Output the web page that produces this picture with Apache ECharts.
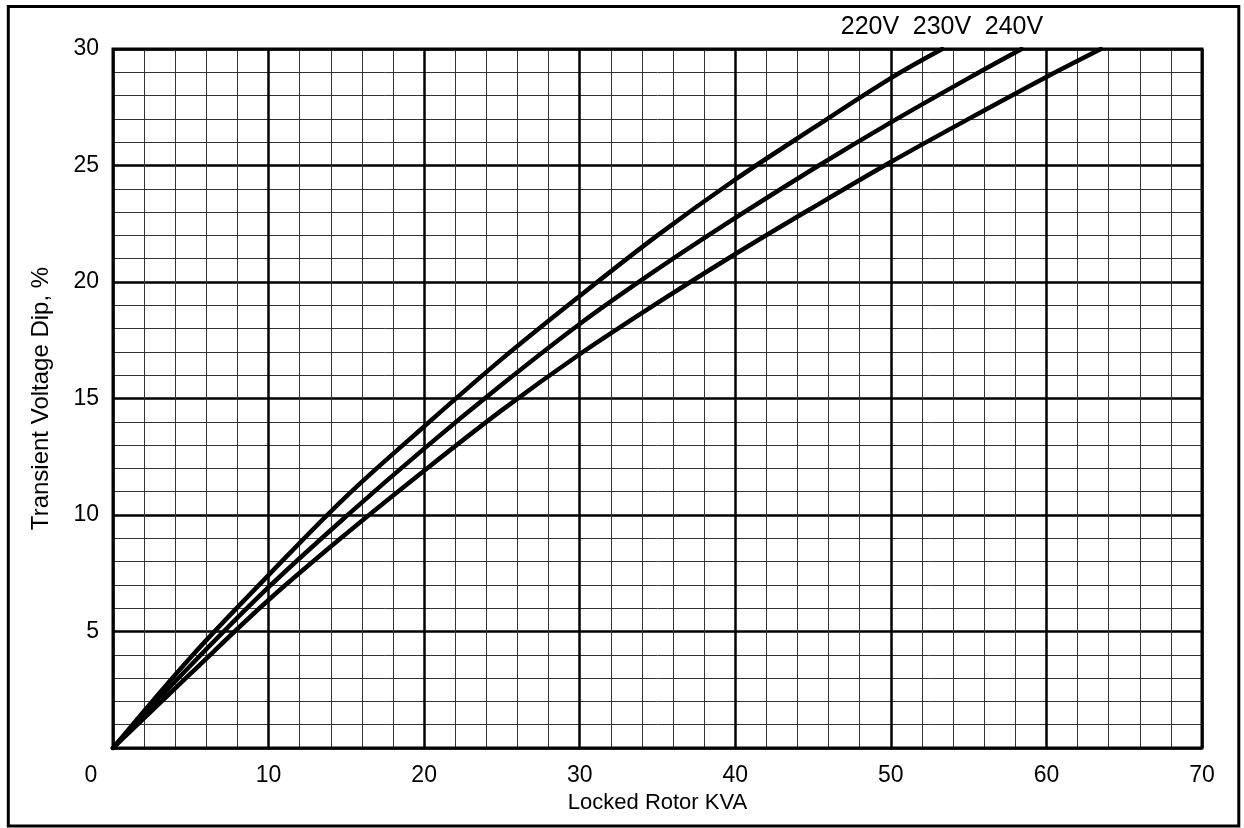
<!DOCTYPE html>
<html>
<head>
<meta charset="utf-8">
<script src="https://cdn.jsdelivr.net/npm/echarts@6/dist/echarts.min.js"></script>
<style>html,body{margin:0;padding:0;background:#fff}#c{width:1244px;height:828px}</style>
</head>
<body>
<div id="c"></div>
<script>
var seriesNames = ['220V', '230V', '240V'];
var v220 = [[0,0],[5,3.9],[10,7.42],[15,10.8],[20,13.8],[25,16.7],[30,19.4],[35,22.0],[40,24.4],[45,26.6],[50,28.75],[53.3,30]];
var v230 = [[0,0],[5,3.55],[10,6.9],[15,9.95],[20,12.85],[25,15.6],[30,18.2],[35,20.55],[40,22.75],[45,24.85],[50,26.85],[55,28.75],[58.4,30]];
var v240 = [[0,0],[5,3.2],[10,6.35],[15,9.2],[20,11.9],[25,14.5],[30,16.9],[35,19.1],[40,21.2],[45,23.2],[50,25.15],[55,27.0],[60,28.8],[63.5,30]];
var xTitle = 'Locked Rotor KVA';
var yTitle = 'Transient Voltage Dip, %';

var font = 'Liberation Sans, Arial, sans-serif';
var chart = echarts.init(document.getElementById('c'), null, {renderer: 'canvas'});
function mk(name, data) {
  return {
    name: name, type: 'line', data: data, smooth: 0.35, symbol: 'none',
    lineStyle: {color: '#000', width: 4.5, cap: 'round'}, z: 5
  };
}
chart.setOption({
  backgroundColor: '#fff',
  animation: false,
  grid: {left: 113, right: 42, top: 49, bottom: 80, show: true, borderColor: '#000', borderWidth: 3, backgroundColor: 'transparent', z: 10},
  xAxis: {
    type: 'value', min: 0, max: 70, interval: 10,
    name: xTitle, nameLocation: 'middle', nameGap: 44,
    nameTextStyle: {fontFamily: font, fontSize: 22, color: '#000'},
    axisLine: {show: false}, axisTick: {show: false},
    axisLabel: {
      fontFamily: font, fontSize: 23, color: '#000', margin: 16,
      formatter: function (v) { return v === 0 ? '{z|0}' : String(v); },
      rich: {z: {fontFamily: font, fontSize: 23, color: '#000', padding: [0, 44, 0, 0]}}
    },
    splitLine: {show: true, lineStyle: {color: '#000', width: 2.5}},
    minorTick: {show: false, splitNumber: 5},
    minorSplitLine: {show: true, lineStyle: {color: '#333', width: 1}}
  },
  yAxis: {
    type: 'value', min: 0, max: 30, interval: 5,
    name: yTitle, nameLocation: 'middle', nameGap: 60, nameRotate: 90,
    nameTextStyle: {fontFamily: font, fontSize: 24, color: '#000'},
    axisLine: {show: false}, axisTick: {show: false},
    axisLabel: {
      fontFamily: font, fontSize: 23, color: '#000', margin: 14,
      formatter: function (v) { return v === 0 ? '' : String(v); }
    },
    splitLine: {show: true, lineStyle: {color: '#000', width: 2.5}},
    minorTick: {show: false, splitNumber: 5},
    minorSplitLine: {show: true, lineStyle: {color: '#333', width: 1}}
  },
  series: [mk(seriesNames[0], v220), mk(seriesNames[1], v230), mk(seriesNames[2], v240)],
  graphic: [
    {type: 'rect', shape: {x: 8.3, y: 6.5, width: 1230.5, height: 819.5}, style: {fill: 'none', stroke: '#000', lineWidth: 3}, silent: true},
    {type: 'text', x: 870, y: 27, style: {text: seriesNames[0], font: '25px ' + font, fill: '#000', textAlign: 'center', textVerticalAlign: 'middle'}},
    {type: 'text', x: 942, y: 27, style: {text: seriesNames[1], font: '25px ' + font, fill: '#000', textAlign: 'center', textVerticalAlign: 'middle'}},
    {type: 'text', x: 1014, y: 27, style: {text: seriesNames[2], font: '25px ' + font, fill: '#000', textAlign: 'center', textVerticalAlign: 'middle'}}
  ]
});
</script>
</body>
</html>
